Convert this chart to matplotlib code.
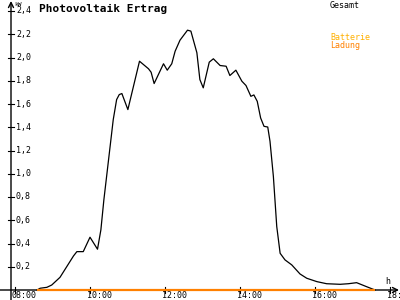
import matplotlib
matplotlib.use("Agg")
import matplotlib.pyplot as plt
from matplotlib.transforms import offset_copy

# Gesamt (total PV power) in kW over the day
gesamt_h = [8.59, 8.67, 8.85, 8.98, 9.20, 9.38, 9.56, 9.65, 9.82, 10.00,
            10.20, 10.29, 10.37, 10.62, 10.71, 10.78, 10.85, 11.01, 11.32, 11.56,
            11.63, 11.71, 11.96, 12.06, 12.18, 12.27, 12.40, 12.60, 12.69, 12.85,
            12.93, 13.02, 13.18, 13.29, 13.47, 13.63, 13.73, 13.89, 14.05, 14.16,
            14.29, 14.37, 14.46, 14.55, 14.64, 14.74, 14.80, 14.89, 14.98, 15.07,
            15.20, 15.38, 15.60, 15.78, 16.05, 16.31, 16.67, 16.89, 17.11, 17.38,
            17.60]
gesamt_kw = [0.00, 0.015, 0.023, 0.043, 0.109, 0.201, 0.293, 0.330, 0.330, 0.454,
             0.351, 0.517, 0.776, 1.466, 1.638, 1.681, 1.690, 1.552, 1.968, 1.903,
             1.873, 1.776, 1.946, 1.891, 1.946, 2.054, 2.149, 2.235, 2.227, 2.041,
             1.810, 1.739, 1.960, 1.989, 1.931, 1.925, 1.845, 1.891, 1.796, 1.759,
             1.666, 1.678, 1.623, 1.480, 1.408, 1.402, 1.279, 0.977, 0.546, 0.316,
             0.259, 0.216, 0.138, 0.101, 0.072, 0.054, 0.049, 0.054, 0.063, 0.028,
             0.00]

# Batterie Ladung (battery charging) stays at zero
ladung_h = [8.59, 17.60]
ladung_kw = [0.0, 0.0]

y_ticks = [0.2, 0.4, 0.6, 0.8, 1.0, 1.2, 1.4, 1.6, 1.8, 2.0, 2.2, 2.4]
x_ticks = [8, 10, 12, 14, 16, 18]
x_labels = ["08:00", "10:00", "12:00", "14:00", "16:00", "18:00"]

W, H = 400, 300
PX_PER_H = 37.5
PX_PER_KW = 116.25

def ax_x(px):
    return px / W

def ax_y(py):
    return 1 - py / H

fig = plt.figure(figsize=(4, 3), dpi=100)
ax = fig.add_axes([0, 0, 1, 1])
ax.set_xlim(8 - 15 / PX_PER_H, 8 + 385 / PX_PER_H)
ax.set_ylim(-10 / PX_PER_KW, 290 / PX_PER_KW)
ax.axis("off")

mono = "DejaVu Sans Mono"

# axes with arrows
ax.annotate("", xy=(ax_x(399), ax_y(290)), xytext=(0, ax_y(290)),
            xycoords="axes fraction", textcoords="axes fraction", zorder=1,
            arrowprops=dict(arrowstyle="->", lw=1.0, color="black",
                            mutation_scale=9, shrinkA=0, shrinkB=0))
ax.annotate("", xy=(ax_x(11), ax_y(1)), xytext=(ax_x(11), 0),
            xycoords="axes fraction", textcoords="axes fraction", zorder=1,
            arrowprops=dict(arrowstyle="->", lw=1.0, color="black",
                            mutation_scale=9, shrinkA=0, shrinkB=0))

# y ticks + labels
ytr = ax.get_yaxis_transform()
for v in y_ticks:
    ax.plot([ax_x(8), ax_x(14)], [v, v], color="black", lw=0.8, transform=ytr)
    ax.text(ax_x(16), v, f"{v:.1f}".replace(".", ","), transform=ytr,
            ha="left", va="center", fontsize=6, family=mono)

# x ticks + labels
xtr = ax.get_xaxis_transform()
lab_tr = offset_copy(xtr, fig=fig, x=-3.5, y=0, units="dots")
for t, lab in zip(x_ticks, x_labels):
    ax.plot([t, t], [ax_y(293), ax_y(287)], color="black", lw=0.8, transform=xtr)
    ax.text(t, ax_y(296), lab, transform=lab_tr, ha="left", va="center",
            fontsize=6, family=mono)

# series
ax.plot(gesamt_h, gesamt_kw, color="black", lw=0.9, zorder=4)
ax.plot(ladung_h, ladung_kw, color="#FF8000", lw=1.6, solid_capstyle="butt",
        zorder=5)

# texts
ax.text(ax_x(39), ax_y(11.5), "Photovoltaik Ertrag", transform=ax.transAxes,
        ha="left", va="baseline", fontsize=8, fontweight="bold", family=mono)
ax.text(ax_x(14.5), ax_y(6.5), "kW", transform=ax.transAxes, ha="left",
        va="baseline", fontsize=4.5, family=mono)
ax.text(ax_x(385), ax_y(284.5), "h", transform=ax.transAxes, ha="left",
        va="baseline", fontsize=6, family=mono)
ax.text(ax_x(330), ax_y(7.5), "Gesamt", transform=ax.transAxes, ha="left",
        va="baseline", fontsize=6, family=mono, color="black")
ax.text(ax_x(330), ax_y(39.5), "Batterie", transform=ax.transAxes, ha="left",
        va="baseline", fontsize=6, family=mono, color="#FFB000")
ax.text(ax_x(330), ax_y(47.5), "Ladung", transform=ax.transAxes, ha="left",
        va="baseline", fontsize=6, family=mono, color="#FF8000")

fig.savefig("out.png", dpi=100)
